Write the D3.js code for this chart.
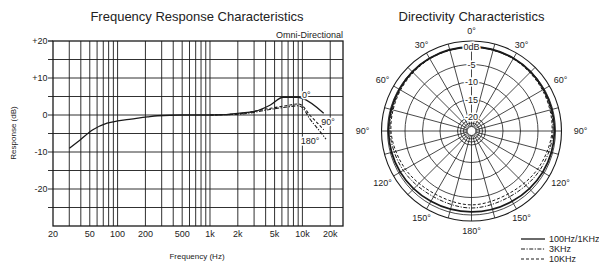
<!DOCTYPE html>
<html>
<head>
<meta charset="utf-8">
<script src="https://cdn.jsdelivr.net/npm/d3@7"></script>
<style>
  body { margin: 0; background: #fff; }
  svg { display: block; font-family: "Liberation Sans", Arial, sans-serif; }
</style>
</head>
<body>
<div class="canvas"></div>
<script>
// ================= DATA =================
// frequency response curves: [Hz, dB]
const resp0 = [[30,-9],[39,-6.8],[54,-4],[77,-2.2],[100,-1.6],[140,-1.1],[210,-0.5],[270,-0.2],[500,0],[1000,0],[1500,0.1],[2100,0.5],[3000,0.9],[4500,2.7],[6200,4.8],[8900,4.8],[10000,4.5],[17000,0.5]];
const resp90 = [[1000,0],[2000,0.3],[2500,0.6],[3000,1.0],[4000,1.6],[5000,2.0],[7000,2.6],[9000,3.0],[10000,2.5],[12000,0],[15000,-2.5],[17000,-4]];
const resp180 = [[1000,0],[2000,0.2],[2500,0.4],[3000,0.7],[4000,1.3],[5000,1.7],[7000,2.2],[9000,2.5],[10000,2.0],[12000,-1],[15000,-4],[18000,-6.5]];

const freqTicks = [20, 50, 100, 200, 500, 1000, 2000, 5000, 10000, 20000];
const freqTickLabels = ['20', '50', '100', '200', '500', '1k', '2k', '5k', '10k', '20k'];
const dbTicks = [20, 10, 0, -10, -20];
const dbTickLabels = ['+20', '+10', '0', '-10', '-20'];

// directivity patterns, dB at 0,30,...,180 degrees (mirrored)
const patAngles = [0, 30, 60, 90, 120, 150, 180];
const pat1k = [0, 0, -0.2, -0.3, -0.5, -0.8, -0.9];
const pat3k = [0, -0.1, -0.4, -0.7, -1.5, -2.3, -2.0];
const pat10k = [0, -0.2, -0.6, -1.0, -2.2, -3.2, -2.9];

const ringDb = [0, -5, -10, -15, -20];
const ringLabels = ['0dB', '-5', '-10', '-15', '-20'];
const angleLabels = [0, 30, 60, 90, 120, 150, 180];

const legendNames = ['100Hz/1KHz', '3KHz', '10KHz'];

// ================= SVG =================
const svg = d3.select('.canvas')
    .append('svg')
    .attr('width', 599)
    .attr('height', 268);

const ink = '#1a1a1a';

// ---------------- frequency response ----------------
const x = d3.scaleLog().domain([20, 27500]).range([53, 343]);
const y = d3.scaleLinear().domain([-30, 20]).range([226, 41]);

const freq = svg.append('g');

// vertical grid: log ticks
const gridFreqs = [];
[10, 100, 1000, 10000].forEach(dec => {
    for (let k = 1; k <= 9; k++) {
        const f = dec * k;
        if (f > 20 && f <= 20000) gridFreqs.push(f);
    }
});
freq.selectAll('line.vgrid')
    .data(gridFreqs)
    .enter().append('line')
    .attr('x1', d => x(d)).attr('x2', d => x(d))
    .attr('y1', y(20)).attr('y2', y(-30))
    .attr('stroke', ink).attr('stroke-width', 0.9);

// horizontal grid every 5 dB, sticking out on the left
freq.selectAll('line.hgrid')
    .data(d3.range(-25, 20, 5))
    .enter().append('line')
    .attr('x1', 48).attr('x2', 343)
    .attr('y1', d => y(d)).attr('y2', d => y(d))
    .attr('stroke', ink).attr('stroke-width', 0.9);

freq.append('rect')
    .attr('x', 53).attr('y', y(20))
    .attr('width', 343 - 53).attr('height', y(-30) - y(20))
    .attr('fill', 'none').attr('stroke', ink).attr('stroke-width', 1.3);
freq.append('line')
    .attr('x1', 48).attr('x2', 53).attr('y1', y(20)).attr('y2', y(20))
    .attr('stroke', ink).attr('stroke-width', 1.3);

// tick labels
freq.selectAll('text.xt')
    .data(freqTicks)
    .enter().append('text')
    .attr('x', d => x(d)).attr('y', 237)
    .attr('text-anchor', 'middle').attr('font-size', 9).attr('fill', '#222')
    .text((d, i) => freqTickLabels[i]);

freq.selectAll('text.yt')
    .data(dbTicks)
    .enter().append('text')
    .attr('x', 47.5).attr('y', d => y(d))
    .attr('dy', '0.35em')
    .attr('text-anchor', 'end').attr('font-size', 9).attr('fill', '#222')
    .text((d, i) => dbTickLabels[i]);

// titles
freq.append('text').attr('x', 197).attr('y', 21)
    .attr('text-anchor', 'middle').attr('font-size', 13).attr('fill', '#222')
    .text('Frequency Response Characteristics');
freq.append('text').attr('x', 197).attr('y', 259)
    .attr('text-anchor', 'middle').attr('font-size', 8).attr('fill', '#222')
    .text('Frequency (Hz)');
freq.append('text')
    .attr('transform', 'translate(16,133) rotate(-90)')
    .attr('text-anchor', 'middle').attr('font-size', 8).attr('fill', '#222')
    .text('Response (dB)');
freq.append('text').attr('x', 343).attr('y', 38)
    .attr('text-anchor', 'end').attr('font-size', 9).attr('fill', '#222')
    .text('Omni-Directional');

// curves
const line = d3.line()
    .x(d => x(d[0]))
    .y(d => y(d[1]))
    .curve(d3.curveMonotoneX);

freq.append('path').datum(resp180)
    .attr('d', line).attr('fill', 'none')
    .attr('stroke', ink).attr('stroke-width', 1.1)
    .attr('stroke-dasharray', '4,1.5,1.2,1.5');
freq.append('path').datum(resp90)
    .attr('d', line).attr('fill', 'none')
    .attr('stroke', ink).attr('stroke-width', 1.1)
    .attr('stroke-dasharray', '3,2');
freq.append('path').datum(resp0)
    .attr('d', line).attr('fill', 'none')
    .attr('stroke', ink).attr('stroke-width', 1.3);

// curve labels
const curveLabels = [
    {t: '0°', f: 11000, db: 5.5},
    {t: '90°', f: 18900, db: -1.9},
    {t: '180°', f: 12100, db: -7}
];
freq.selectAll('text.cl')
    .data(curveLabels)
    .enter().append('text')
    .attr('x', d => x(d.f)).attr('y', d => y(d.db))
    .attr('dy', '0.35em').attr('text-anchor', 'middle')
    .attr('font-size', 9).attr('fill', '#222')
    .attr('stroke', '#fff').attr('stroke-width', 3).attr('paint-order', 'stroke')
    .text(d => d.t);

// ---------------- directivity ----------------
const cx = 471.5, cy = 131;
const r = d3.scaleLinear().domain([-20, 0]).range([14, 84]);
const outerR = 90;

const polar = svg.append('g').attr('transform', `translate(${cx}, ${cy})`);

svg.append('text').attr('x', cx).attr('y', 21)
    .attr('text-anchor', 'middle').attr('font-size', 13).attr('fill', '#222')
    .text('Directivity Characteristics');

// spokes every 15 deg
polar.selectAll('line.spoke')
    .data(d3.range(0, 360, 15))
    .enter().append('line')
    .attr('x1', d => 4.5 * Math.sin(d * Math.PI / 180))
    .attr('y1', d => -4.5 * Math.cos(d * Math.PI / 180))
    .attr('x2', d => outerR * Math.sin(d * Math.PI / 180))
    .attr('y2', d => -outerR * Math.cos(d * Math.PI / 180))
    .attr('stroke', ink).attr('stroke-width', 0.8);

// rings
polar.selectAll('circle.ring')
    .data(ringDb)
    .enter().append('circle')
    .attr('r', d => r(d))
    .attr('fill', 'none').attr('stroke', ink).attr('stroke-width', 0.8);
polar.selectAll('circle.inner')
    .data([11, 8])
    .enter().append('circle')
    .attr('r', d => d)
    .attr('fill', 'none').attr('stroke', ink).attr('stroke-width', 0.8);
polar.append('circle').attr('r', 4.5)
    .attr('fill', '#fff').attr('stroke', ink).attr('stroke-width', 0.9);
polar.append('circle').attr('r', outerR)
    .attr('fill', 'none').attr('stroke', ink).attr('stroke-width', 1.1);

// patterns
const mirror = vals => {
    const pts = patAngles.map((a, i) => [a, vals[i]]);
    const back = patAngles.slice(1, -1).reverse().map((a, i) => [360 - a, vals[patAngles.length - 2 - i]]);
    return pts.concat(back);
};
const radial = d3.lineRadial()
    .angle(d => d[0] * Math.PI / 180)
    .radius(d => r(d[1]))
    .curve(d3.curveCatmullRomClosed);

const patterns = [
    {vals: pat10k, dash: '3,2', w: 1},
    {vals: pat3k, dash: '4,1.5,1.2,1.5', w: 1},
    {vals: pat1k, dash: null, w: 1.8}
];
polar.selectAll('path.pat')
    .data(patterns)
    .enter().append('path')
    .attr('d', d => radial(mirror(d.vals)))
    .attr('fill', 'none').attr('stroke', ink)
    .attr('stroke-width', d => d.w)
    .attr('stroke-dasharray', d => d.dash);

// dB labels on the 0 deg spoke
polar.selectAll('text.db')
    .data(ringDb)
    .enter().append('text')
    .attr('x', 0).attr('y', d => -r(d))
    .attr('dy', '0.35em').attr('text-anchor', 'middle')
    .attr('font-size', 9).attr('fill', '#222')
    .attr('stroke', '#fff').attr('stroke-width', 3).attr('paint-order', 'stroke')
    .text((d, i) => ringLabels[i]);

// angle labels on both sides
const angleData = [];
angleLabels.forEach(a => {
    angleData.push(a);
    if (a > 0 && a < 180) angleData.push(-a);
});
const labelR = a => 100 + 9 * Math.pow(Math.abs(Math.sin(a * Math.PI / 180)), 8);
polar.selectAll('text.ang')
    .data(angleData)
    .enter().append('text')
    .attr('x', d => labelR(d) * Math.sin(d * Math.PI / 180))
    .attr('y', d => -labelR(d) * Math.cos(d * Math.PI / 180))
    .attr('dy', '0.35em').attr('text-anchor', 'middle')
    .attr('font-size', 9).attr('fill', '#222')
    .text(d => Math.abs(d) + '°');

// legend
const legend = svg.append('g');
const legendDash = [null, '4,1.5,1.2,1.5', '3,2'];
legendNames.forEach((name, i) => {
    const ly = 239 + i * 10;
    legend.append('line')
        .attr('x1', 521).attr('x2', 545).attr('y1', ly).attr('y2', ly)
        .attr('stroke', ink).attr('stroke-width', i == 0 ? 1.3 : 1)
        .attr('stroke-dasharray', legendDash[i]);
    legend.append('text')
        .attr('x', 549).attr('y', ly).attr('dy', '0.35em')
        .attr('font-size', 9).attr('fill', '#222')
        .text(name);
});
</script>
</body>
</html>
